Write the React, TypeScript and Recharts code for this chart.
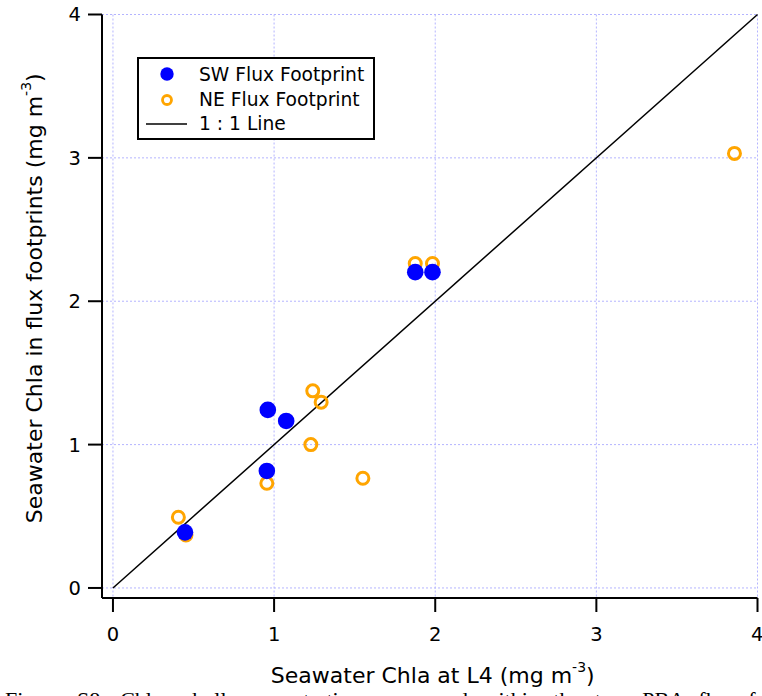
import {
  ScatterChart,
  Scatter,
  XAxis,
  YAxis,
  CartesianGrid,
  ReferenceLine,
  Legend,
} from "recharts";

// SW flux footprint (filled blue)
const swX = [1.876, 1.983, 0.961, 1.075, 0.955, 0.447];
const swY = [2.203, 2.203, 1.242, 1.165, 0.816, 0.388];

// NE flux footprint (open orange)
const neX = [1.876, 1.983, 1.24, 1.292, 1.228, 1.551, 0.955, 0.406, 0.453, 3.857];
const neY = [2.263, 2.263, 1.375, 1.296, 1.0, 0.765, 0.73, 0.493, 0.37, 3.031];

const axisTicks = [0, 1, 2, 3, 4];
const lineEnds = [0, 4];

const FONT = "'DejaVu Sans', sans-serif";

const swData = swX.map((x, i) => ({ x, y: swY[i] }));
const neData = neX.map((x, i) => ({ x, y: neY[i] }));

const RingDot = (props: any) => {
  const { cx, cy } = props;
  if (cx == null || cy == null) return null;
  return <circle cx={cx} cy={cy} r={6} fill="none" stroke="#FFA500" strokeWidth={3} />;
};

const FilledDot = (props: any) => {
  const { cx, cy } = props;
  if (cx == null || cy == null) return null;
  return <circle cx={cx} cy={cy} r={8.3} fill="#0000FF" />;
};

const LegendBox = () => (
  <svg width={238} height={83} style={{ display: "block" }}>
    <rect x={1} y={1} width={236} height={81} fill="#fff" stroke="#000" strokeWidth={2} />
    <circle cx={30} cy={17} r={6.7} fill="#0000FF" />
    <circle cx={30} cy={43} r={4.5} fill="none" stroke="#FFA500" strokeWidth={2.8} />
    <line x1={9} y1={67} x2={50} y2={67} stroke="#000" strokeWidth={1.5} />
    <g fontFamily={FONT} fontSize={18.7} fill="#000">
      <text x={62} y={24}>SW Flux Footprint</text>
      <text x={62} y={49}>NE Flux Footprint</text>
      <text x={62} y={73}>1 : 1 Line</text>
    </g>
  </svg>
);

const XLabel = (props: any) => {
  const vb = props.viewBox;
  return (
    <text
      x={vb.x + vb.width / 2 + 3}
      y={vb.y + 85}
      textAnchor="middle"
      fontFamily={FONT}
      fontSize={22}
      fill="#000"
    >
      Seawater Chla at L4 (mg m
      <tspan fontSize={14} dy={-11}>-3</tspan>
      <tspan dy={11}>)</tspan>
    </text>
  );
};

const YLabel = (props: any) => {
  const vb = props.viewBox;
  const cx = 41.7;
  const cy = vb.y + vb.height / 2 - 8;
  return (
    <text
      x={cx}
      y={cy}
      transform={`rotate(-90, ${cx}, ${cy})`}
      textAnchor="middle"
      fontFamily={FONT}
      fontSize={22}
      fill="#000"
    >
      Seawater Chla in flux footprints (mg m
      <tspan fontSize={14} dy={-11}>-3</tspan>
      <tspan dy={11}>)</tspan>
    </text>
  );
};

export default function App() {
  return (
    <div
      style={{
        position: "absolute",
        left: 0,
        top: 0,
        width: 762,
        height: 696,
        overflow: "hidden",
        background: "#fff",
      }}
    >
      <ScatterChart
        width={762}
        height={696}
        margin={{ top: 14.5, right: 4.5, bottom: 0, left: 0 }}
      >
        <CartesianGrid stroke="#b4b4ff" strokeDasharray="2 2" strokeWidth={1} />
        <XAxis
          type="number"
          dataKey="x"
          domain={[-0.068, 4]}
          allowDataOverflow
          ticks={axisTicks}
          height={98}
          axisLine={{ stroke: "#000", strokeWidth: 2 }}
          tickLine={{ stroke: "#000", strokeWidth: 2 }}
          tickSize={14}
          tickMargin={15}
          tick={{ fontSize: 19.5, fill: "#000", fontFamily: FONT }}
          label={{ content: XLabel }}
        />
        <YAxis
          type="number"
          dataKey="y"
          domain={[-0.07, 4]}
          allowDataOverflow
          ticks={axisTicks}
          width={102}
          axisLine={{ stroke: "#000", strokeWidth: 2 }}
          tickLine={{ stroke: "#000", strokeWidth: 2 }}
          tickSize={14}
          tickMargin={7}
          tick={{ fontSize: 19.5, fill: "#000", fontFamily: FONT }}
          label={{ content: YLabel }}
        />
        <Scatter
          name="NE Flux Footprint"
          data={neData}
          shape={RingDot}
          isAnimationActive={false}
        />
        <Scatter
          name="SW Flux Footprint"
          data={swData}
          shape={FilledDot}
          isAnimationActive={false}
        />
        <ReferenceLine
          segment={[
            { x: lineEnds[0], y: lineEnds[0] },
            { x: lineEnds[1], y: lineEnds[1] },
          ]}
          stroke="#000"
          strokeWidth={1.5}
          ifOverflow="visible"
        />
        <Legend
          layout="horizontal"
          verticalAlign="middle"
          align="center"
          content={LegendBox}
          wrapperStyle={{ left: 137, top: 57, width: 238, height: 83 }}
        />
      </ScatterChart>
      <div
        style={{
          position: "absolute",
          left: 5,
          top: 689,
          whiteSpace: "nowrap",
          fontFamily: "'Liberation Serif', serif",
          fontSize: 22,
          lineHeight: "22px",
          wordSpacing: 9,
        }}
      >
        Figure S8. Chlorophyll concentrations measured within the two PBA flux footprints
      </div>
    </div>
  );
}
